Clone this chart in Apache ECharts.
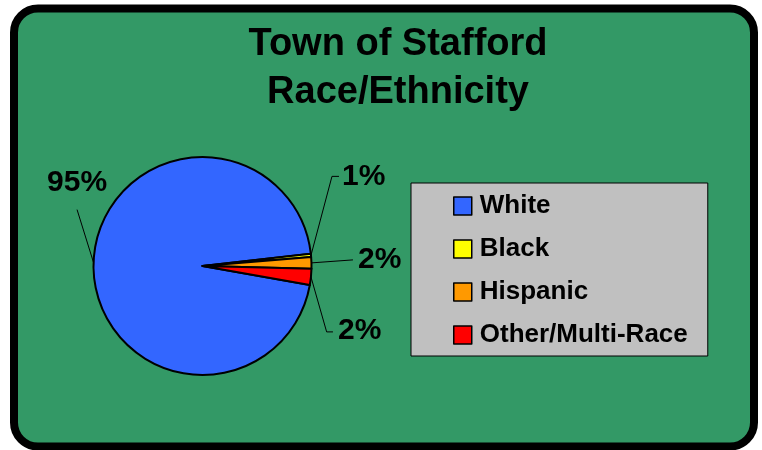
<!DOCTYPE html>
<html>
<head>
<meta charset="utf-8">
<script src="https://cdn.jsdelivr.net/npm/echarts@6/dist/echarts.min.js"></script>
<style>
html,body{margin:0;padding:0;background:#fff;}
#c{width:762px;height:450px;}
</style>
</head>
<body>
<div id="c"></div>
<script>
var categories = ['White', 'Black', 'Hispanic', 'Other/Multi-Race'];
var values = [95.4, 0.5, 1.7, 2.4];
var colors = ['#3366FF', '#FFFF00', '#FF9900', '#FF0000'];

// label placement relative to the slice's edge anchor: elbow points and label point
var labelOffsets = [
  {pts: [[-16.5, -53]], lab: [-16.5, -80], align: 'center'},
  {pts: [[21, -79], [28, -79]], lab: [31, -79], align: 'left'},
  {pts: [[41.5, -3]], lab: [46.5, -3], align: 'left'},
  {pts: [[15.7, 55], [22, 55]], lab: [27, 54], align: 'left'}
];

var chart = echarts.init(document.getElementById('c'));
var font = 'Arial, "Liberation Sans", sans-serif';
var option = {
  animation: false,
  graphic: [{
    type: 'rect',
    z: -10,
    shape: {x: 14, y: 8.5, width: 740, height: 438, r: 24},
    style: {fill: '#339966', stroke: '#000', lineWidth: 8}
  }],
  title: {
    text: 'Town of Stafford\nRace/Ethnicity',
    left: 398,
    textAlign: 'center',
    top: 21,
    padding: 0,
    textStyle: {fontFamily: font, fontSize: 38, fontWeight: 'bold', color: '#000', lineHeight: 48}
  },
  legend: {
    orient: 'vertical',
    left: 411,
    top: 183,
    padding: [10, 20, 8, 42],
    itemGap: 17,
    itemWidth: 18,
    itemHeight: 18,
    icon: 'rect',
    backgroundColor: '#C0C0C0',
    borderColor: '#000',
    borderWidth: 1,
    itemStyle: {borderColor: '#000', borderWidth: 1.5},
    textStyle: {fontFamily: font, fontSize: 26, fontWeight: 'bold', color: '#000', lineHeight: 24, padding: [0, 0, 0, 3]},
    data: categories
  },
  series: [{
    type: 'pie',
    center: [202.5, 266],
    radius: 109,
    startAngle: -10.06,
    clockwise: true,
    avoidLabelOverlap: false,
    itemStyle: {borderColor: '#000', borderWidth: 2},
    label: {
      show: true,
      position: 'outside',
      fontFamily: font,
      fontSize: 30,
      fontWeight: 'bold',
      color: '#000',
      formatter: function (p) { return Math.round(p.value) + '%'; }
    },
    labelLine: {show: true, length: 10, length2: 10, lineStyle: {color: '#000', width: 1}},
    labelLayout: function (params) {
      var o = labelOffsets[params.dataIndex];
      var p0 = params.labelLinePoints[0];
      var pts = [[p0[0], p0[1]]];
      o.pts.forEach(function (d) { pts.push([p0[0] + d[0], p0[1] + d[1]]); });
      return {
        x: p0[0] + o.lab[0],
        y: p0[1] + o.lab[1],
        align: o.align,
        verticalAlign: 'middle',
        labelLinePoints: pts
      };
    },
    emphasis: {disabled: true},
    data: categories.map(function (c, i) {
      return {name: c, value: values[i], itemStyle: {color: colors[i]}};
    })
  }]
};
chart.setOption(option);
</script>
</body>
</html>
